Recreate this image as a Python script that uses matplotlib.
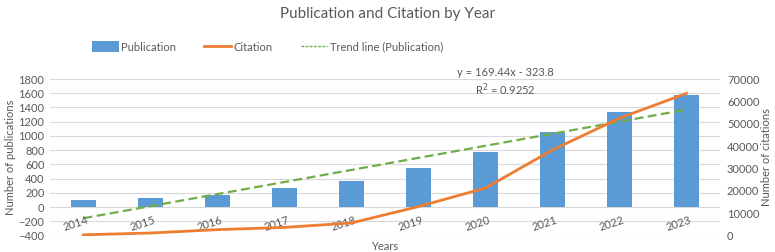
import matplotlib
matplotlib.use('Agg')
import matplotlib.pyplot as plt
from matplotlib.patches import Patch
from matplotlib.lines import Line2D

plt.rcParams['font.family'] = ['Lato', 'DejaVu Sans']

# Data
years = ['2014', '2015', '2016', '2017', '2018', '2019', '2020', '2021', '2022', '2023']
publications = [100, 130, 170, 267, 365, 557, 782, 1057, 1343, 1576]
citations = [400, 1200, 2700, 3700, 5700, 13000, 21300, 38300, 52500, 63600]
# trend line coefficients as printed on the chart
trend_slope = 169.44
trend_intercept = -323.8
trend_r2 = 0.9252

grey = '#595959'
grid_col = '#d9d9d9'
bar_col = '#5b9bd5'
cit_col = '#ed7d31'
trend_col = '#70ad47'

fig = plt.figure(figsize=(7.75, 2.52), dpi=100)
ax = fig.add_axes([0.0645, 0.0647, 0.8645, 0.6218])
ax2 = ax.twinx()

x = list(range(len(years)))
ax.bar(x, publications, width=0.38, color=bar_col, zorder=2)

# linear trend of publications (x = 1..10)
trend_y = [trend_slope * (i + 1) + trend_intercept for i in x]
ax.plot(x, trend_y, color=trend_col, linestyle=(0, (4, 2)), linewidth=1.6, zorder=3)

ax2.plot(x, citations, color=cit_col, linewidth=2.0, zorder=4)

ax.set_xlim(-0.5, len(years) - 0.5)
ax.set_ylim(-400, 1800)
ax.set_yticks(range(-400, 1801, 200))
ax2.set_ylim(0, 70000)
ax2.set_yticks(range(0, 70001, 10000))

ax.yaxis.grid(True, color=grid_col, linewidth=0.8, zorder=0)
ax.set_axisbelow(True)
for a in (ax, ax2):
    for s in a.spines.values():
        s.set_visible(False)
    a.tick_params(length=0, labelsize=8, labelcolor=grey)
ax.tick_params(axis='y', pad=4)
ax2.tick_params(axis='y', pad=5)

ax.set_xticks([])
for i, yr in enumerate(years):
    ax.text(i - 0.12, -225, yr, rotation=18, ha='center', va='center',
            fontsize=8, color=grey, rotation_mode='anchor')

ax.set_ylabel('Number of publications', fontsize=8, color=grey, labelpad=2)
ax2.set_ylabel('Number of citations', fontsize=8, color=grey, labelpad=1)
ax.text(0.5, -0.07, 'Years', transform=ax.transAxes, ha='center', va='center',
        fontsize=8, color=grey)

ax.text(6.3, 1750, 'y = %.2fx - %.1f\nR$^2$ = %.4f' % (trend_slope, -trend_intercept, trend_r2),
        ha='center', va='center', fontsize=8, color=grey, linespacing=1.3)

fig.text(0.5, 0.945, 'Publication and Citation by Year', ha='center', va='center',
         fontsize=11, color=grey)

handles = [Patch(facecolor=bar_col, label='Publication'),
           Line2D([], [], color=cit_col, linewidth=2.0, label='Citation'),
           Line2D([], [], color=trend_col, linestyle=(0, (2, 1)), linewidth=1.0,
                  label='Trend line (Publication)')]
fig.legend(handles=handles, loc='center left', bbox_to_anchor=(92 / 775, 1 - 47 / 252),
           ncol=3, frameon=False, fontsize=8, labelcolor=grey, handlelength=2.4,
           handleheight=1.1, columnspacing=2.5, handletextpad=0.25,
           borderpad=0, borderaxespad=0)

fig.savefig('out.png', dpi=100)
